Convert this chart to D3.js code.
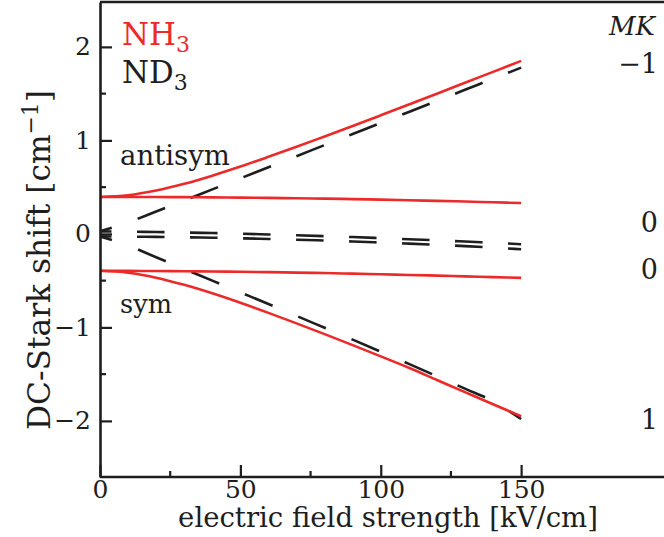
<!DOCTYPE html>
<html>
<head>
<meta charset="utf-8">
<script src="https://cdn.jsdelivr.net/npm/d3@7"></script>
<style>
  html, body { margin: 0; padding: 0; background: #fff; }
  svg { display: block; }
</style>
</head>
<body>
<svg id="chart" width="664" height="537"></svg>
<script>
// Field strengths (kV/cm) at which the Stark levels are sampled
const field = [0, 10, 20, 30, 40, 50, 60, 70, 80, 90, 100, 110, 120, 130, 140, 150];

// NH3 Stark shifts (cm^-1), J=1 K=1 levels
const nh3Up   = [0.395, 0.413, 0.463, 0.535, 0.623, 0.720, 0.824, 0.931, 1.042, 1.154, 1.268, 1.383, 1.499, 1.616, 1.733, 1.850];
const nh3Up0  = [0.395, 0.395, 0.394, 0.393, 0.391, 0.388, 0.385, 0.381, 0.377, 0.372, 0.366, 0.360, 0.353, 0.346, 0.338, 0.330];
const nh3Lo0  = [-0.395, -0.396, -0.397, -0.399, -0.402, -0.405, -0.409, -0.414, -0.419, -0.425, -0.432, -0.439, -0.446, -0.454, -0.462, -0.470];
const nh3Lo   = [-0.395, -0.415, -0.468, -0.545, -0.636, -0.737, -0.845, -0.957, -1.072, -1.190, -1.310, -1.432, -1.562, -1.692, -1.822, -1.950];

// ND3 Stark shifts (cm^-1)
const nd3Up   = [0.027, 0.122, 0.240, 0.358, 0.476, 0.594, 0.713, 0.831, 0.950, 1.068, 1.186, 1.304, 1.423, 1.541, 1.660, 1.778];
const nd3Up0  = [0.027, 0.024, 0.020, 0.015, 0.009, 0.002, -0.006, -0.015, -0.024, -0.034, -0.045, -0.057, -0.069, -0.082, -0.096, -0.110];
const nd3Lo0  = [-0.027, -0.029, -0.032, -0.036, -0.041, -0.047, -0.054, -0.062, -0.071, -0.081, -0.092, -0.104, -0.117, -0.131, -0.147, -0.165];
const nd3Lo   = [-0.027, -0.125, -0.250, -0.375, -0.500, -0.625, -0.750, -0.877, -1.004, -1.131, -1.260, -1.390, -1.522, -1.655, -1.790, -1.980];

// Axis ticks
const xMajor = [0, 50, 100, 150];
const xMinor = [25, 75, 125];
const yMajor = [-2, -1, 0, 1, 2];
const yMinor = [-1.5, -0.5, 0.5, 1.5];

// MK labels at the right-hand end of each level
const mkLabels = ["\u22121", "0", "0", "1"];
const mkValues = [1.83, 0.13, -0.38, -1.98];

const red = "#ec2a2a";
const ink = "#1e1e1e";
const serif = "DejaVu Serif";

const svg = d3.select("#chart");
const W = 664, H = 537;
const plotLeft = 100, plotTop = 2, plotBottom = 477;

const x = d3.scaleLinear().domain([0, 200]).range([plotLeft, 661.5]);
const y = d3.scaleLinear().domain([-2.6, 2.48]).range([plotBottom, plotTop]);

// Scale a text (and its tspans) so that it spans the given width
function fit(sel, width) {
  const k = width / sel.node().getComputedTextLength();
  sel.attr("font-size", +sel.attr("font-size") * k);
  sel.selectAll("tspan").each(function () {
    const t = d3.select(this);
    if (t.attr("font-size")) t.attr("font-size", +t.attr("font-size") * k);
    if (t.attr("dy")) t.attr("dy", +t.attr("dy") * k);
  });
  return sel;
}

// Curves
const line = d3.line()
  .x((d, i) => x(field[i]))
  .y(d => y(d))
  .curve(d3.curveMonotoneX);

// ND3: dashed; the dash rhythm is kept even along the field axis,
// so sloped levels get their pattern stretched by their path length.
const dash = 27.5, gap = 25.5, phase = 16;
const span = x(field[field.length - 1]) - x(field[0]);
const dashed = svg.append("g")
  .attr("fill", "none")
  .attr("stroke", ink)
  .attr("stroke-width", 2.6);
[nd3Up, nd3Up0, nd3Lo0, nd3Lo].forEach(s => {
  const p = dashed.append("path").attr("d", line(s));
  const f = p.node().getTotalLength() / span;
  p.attr("stroke-dasharray", `${dash * f},${gap * f}`)
   .attr("stroke-dashoffset", phase * f);
});

const solid = svg.append("g")
  .attr("fill", "none")
  .attr("stroke", red)
  .attr("stroke-width", 2.6);
[nh3Up, nh3Up0, nh3Lo0, nh3Lo].forEach(s => solid.append("path").attr("d", line(s)));

// Frame: top border
svg.append("line")
  .attr("x1", plotLeft).attr("x2", W).attr("y1", plotTop).attr("y2", plotTop)
  .attr("stroke", ink).attr("stroke-width", 2.6);

// Left axis with inward ticks
const yAxis = d3.axisLeft(y).tickValues(yMajor).tickSizeInner(-12).tickSizeOuter(0).tickPadding(9)
  .tickFormat(d => d3.format("d")(d).replace("-", "\u2212"));
const gy = svg.append("g").attr("transform", `translate(${plotLeft},0)`).call(yAxis);
gy.append("g").selectAll("line").data(yMinor).join("line")
  .attr("x1", 0).attr("x2", 6).attr("y1", d => y(d)).attr("y2", d => y(d));

// Bottom axis with inward ticks
const xAxis = d3.axisBottom(x).tickValues(xMajor).tickSizeInner(-12).tickSizeOuter(0).tickPadding(3)
  .tickFormat(d3.format("d"));
const gx = svg.append("g").attr("transform", `translate(0,${plotBottom})`).call(xAxis);
gx.append("g").selectAll("line").data(xMinor).join("line")
  .attr("y1", 0).attr("y2", -6).attr("x1", d => x(d)).attr("x2", d => x(d));

[gx, gy].forEach(g => {
  g.attr("font-family", serif).attr("font-size", 25);
  g.select(".domain").attr("stroke", ink).attr("stroke-width", 2.6);
  g.selectAll("line").attr("stroke", ink).attr("stroke-width", 2.2);
  g.selectAll("text").attr("fill", ink);
});
gx.select(".domain").attr("d", `M${plotLeft},0H${W}`);

// Axis titles
const xt = svg.append("text")
  .attr("x", 388).attr("y", 527)
  .attr("text-anchor", "middle")
  .attr("font-family", serif)
  .attr("font-size", 28)
  .attr("fill", ink)
  .text("electric field strength [kV/cm]");
fit(xt, 420);

const yt = svg.append("text")
  .attr("transform", "translate(50,260) rotate(-90)")
  .attr("text-anchor", "middle")
  .attr("font-family", serif)
  .attr("font-size", 30)
  .attr("fill", ink);
yt.append("tspan").text("DC-Stark shift [cm");
yt.append("tspan").attr("dy", -12).attr("font-size", 21).text("\u22121");
yt.append("tspan").attr("dy", 12).text("]");
fit(yt, 340);

// Legend
const l1 = svg.append("text").attr("x", 122).attr("y", 45).attr("font-family", serif).attr("font-size", 28).attr("fill", red);
l1.append("tspan").text("NH");
l1.append("tspan").attr("dy", 6).attr("font-size", 20).text("3");
fit(l1, 68);
const l2 = svg.append("text").attr("x", 122).attr("y", 83).attr("font-family", serif).attr("font-size", l1.attr("font-size")).attr("fill", ink);
l2.append("tspan").text("ND");
l2.append("tspan").attr("dy", l1.select("tspan:nth-child(2)").attr("dy")).attr("font-size", l1.select("tspan:nth-child(2)").attr("font-size")).text("3");

// Level names
fit(svg.append("text").attr("x", 120).attr("y", 165).attr("font-family", serif).attr("font-size", 28).attr("fill", ink).text("antisym"), 110);
fit(svg.append("text").attr("x", 120).attr("y", 313).attr("font-family", serif).attr("font-size", 28).attr("fill", ink).text("sym"), 52);

// MK column
const mk = svg.append("text").attr("x", 655).attr("y", 35).attr("text-anchor", "end")
  .attr("font-family", serif).attr("font-size", 28).attr("font-style", "italic").attr("fill", ink).text("MK");
fit(mk, 46);
svg.append("g").selectAll("text").data(mkLabels).join("text")
  .attr("x", 658).attr("y", (d, i) => y(mkValues[i]) + 10)
  .attr("text-anchor", "end")
  .attr("font-family", serif)
  .attr("font-size", 27)
  .attr("fill", ink)
  .text(d => d);
</script>
</body>
</html>
